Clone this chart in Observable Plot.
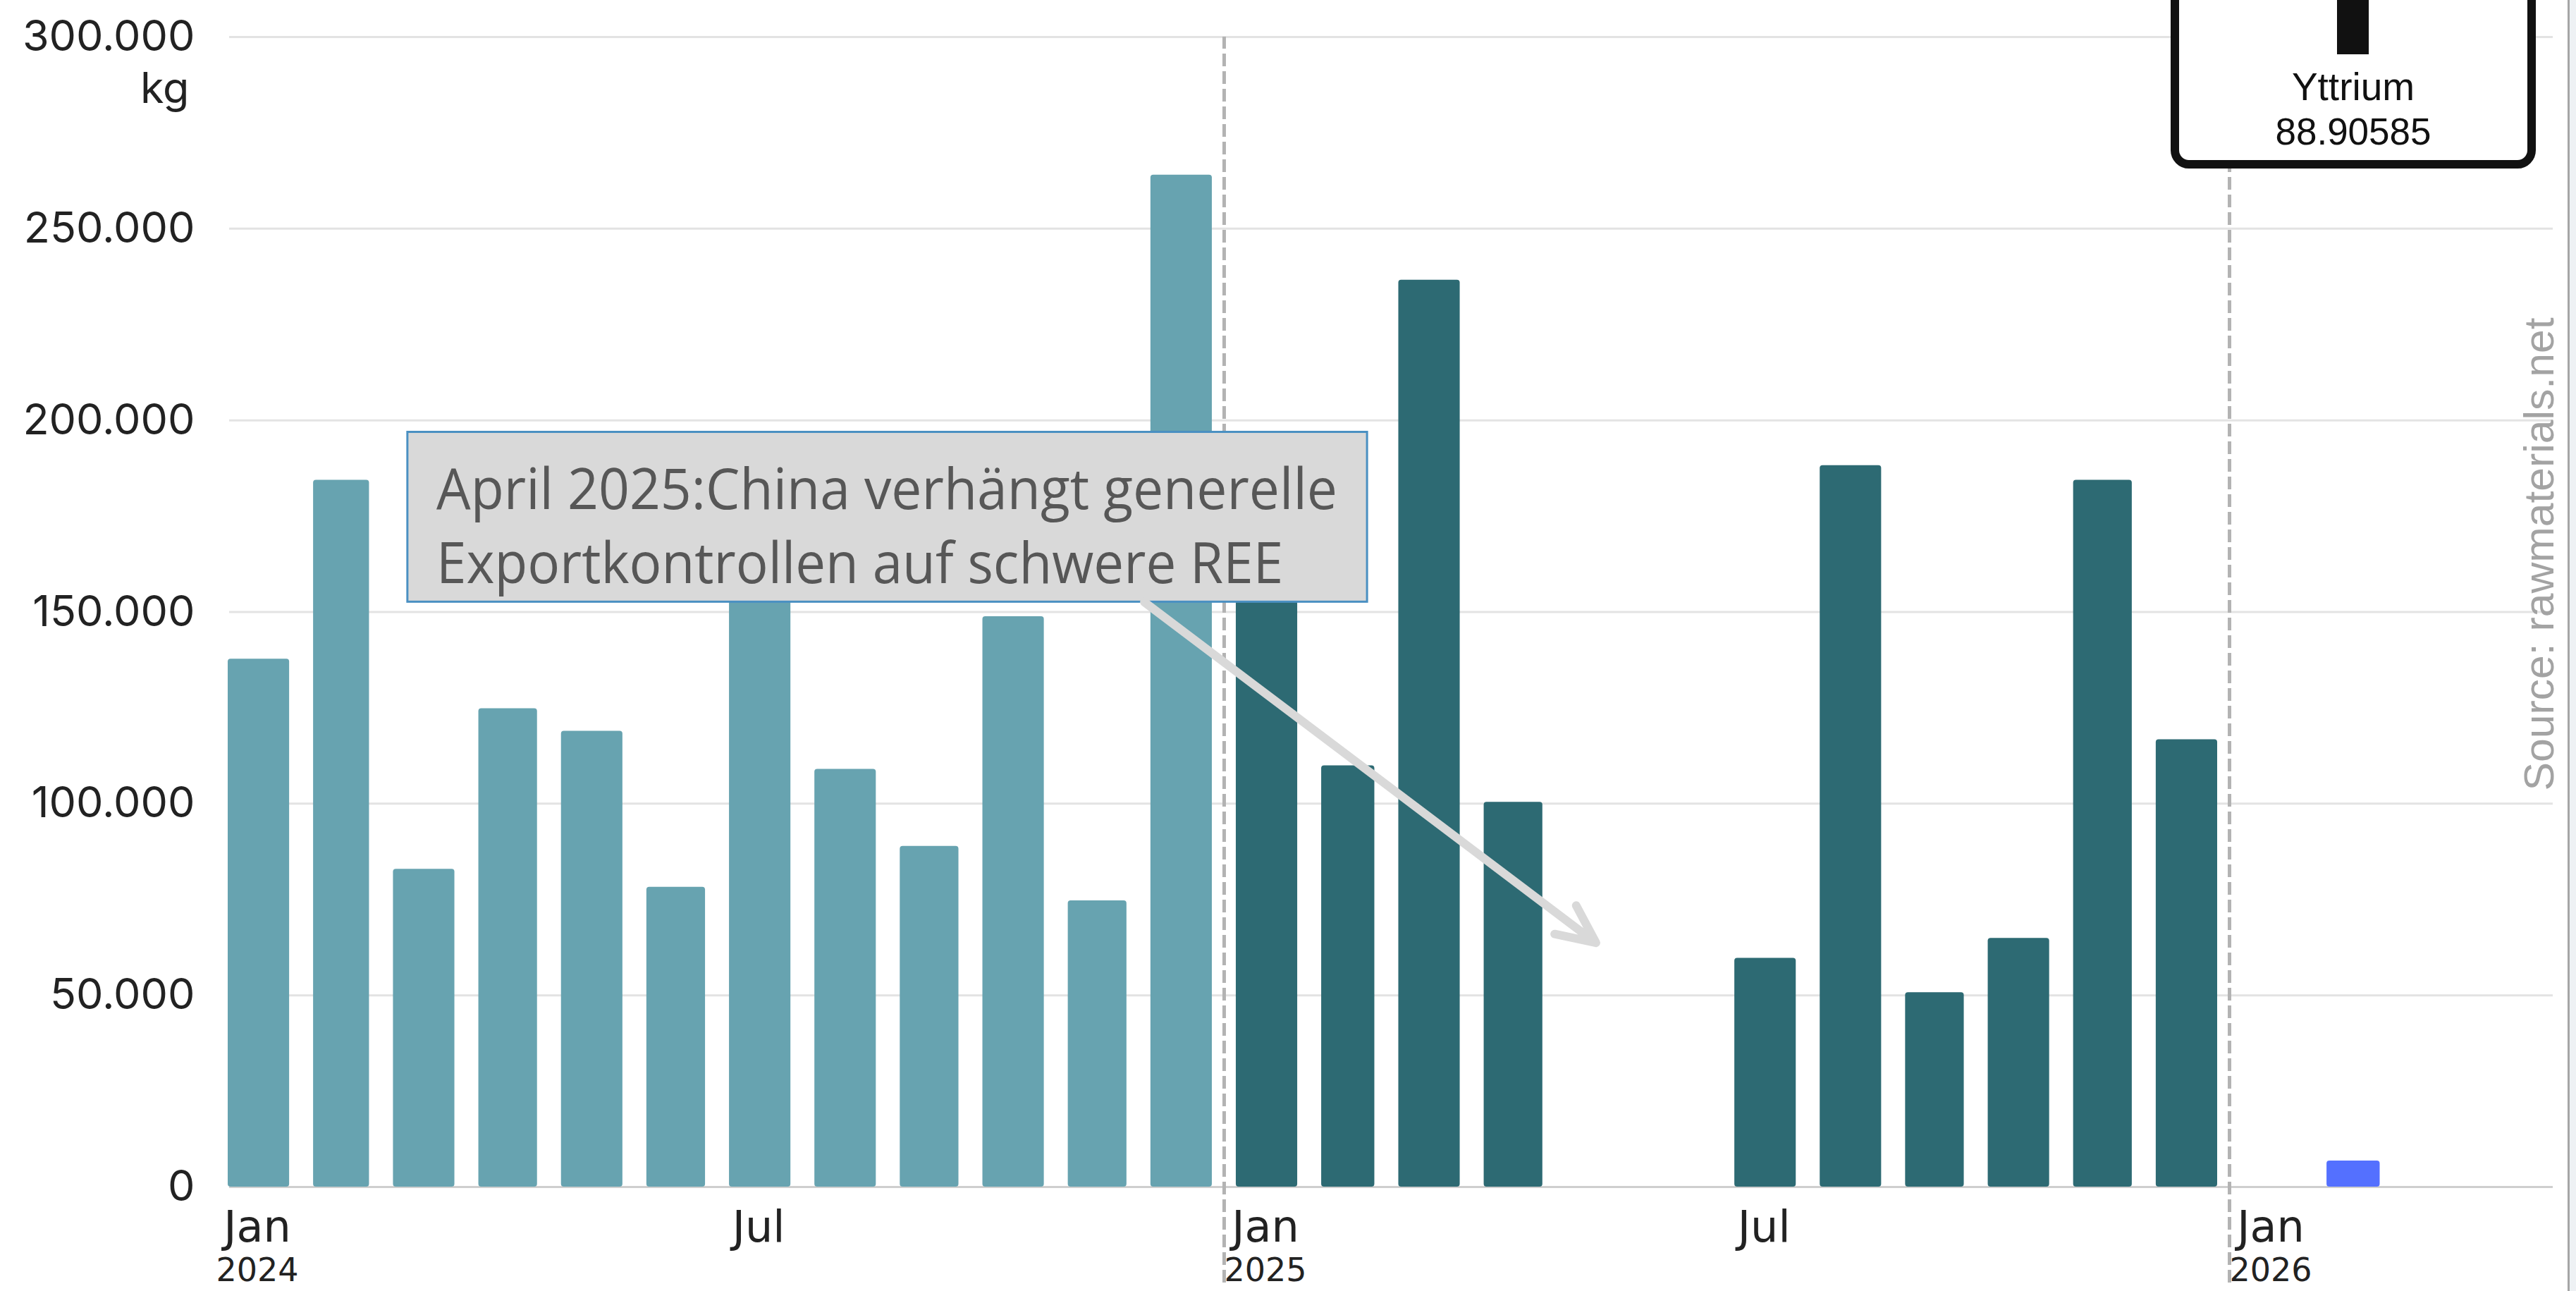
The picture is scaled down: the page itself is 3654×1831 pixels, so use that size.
<!DOCTYPE html>
<html><head><meta charset="utf-8">
<script src="https://cdn.jsdelivr.net/npm/d3@7"></script>
<script src="https://cdn.jsdelivr.net/npm/@observablehq/plot@0.6"></script>
<style>
html,body{margin:0;padding:0;background:#fff;overflow:hidden;}
#wrap{position:relative;width:3654px;height:1831px;}
#wrap svg{display:block}
.overlay{position:absolute;left:0;top:0;pointer-events:none}
</style></head><body><div id="wrap"></div>
<script>
// ---- data ----
const months = ["2024-01","2024-02","2024-03","2024-04","2024-05","2024-06","2024-07","2024-08","2024-09","2024-10","2024-11","2024-12",
                "2025-01","2025-02","2025-03","2025-04","2025-05","2025-06","2025-07","2025-08","2025-09","2025-10","2025-11","2025-12",
                "2026-01","2026-02"];
const values = [137700,184400,82900,124800,118900,78200,175000,109000,88900,148800,74700,264000,
                170000,109900,236600,100400,null,null,59700,188200,50700,64900,184400,116700,
                null,6800];
const years = ["2024","2025","2026"];
const palette = ["#67a3b0","#2d6a73","#5470ff"];
const yTicks = [0,50000,100000,150000,200000,250000,300000];
const tickDates = ["2024-01-16","2024-07-16","2025-01-16","2025-07-16","2026-01-16"];
const tickMonths = ["Jan","Jul","Jan","Jul","Jan"];
const tickYears = ["2024","","2025","","2026"];
const yearStarts = ["2025-01-01","2026-01-01"];
const annotationLines = ["April 2025:China verhängt generelle","Exportkontrollen auf schwere REE"];
const annotationLineValues = [181700,162350];
const annotationTextStart = "2024-03-21";
const annotationBox = {x1:"2024-03-10T14:00", x2:"2025-02-22", y1:152600, y2:196900};
const arrowFrom = {date:"2024-12-03", value:152600};
const arrowTo = {date:"2025-05-16", value:63700};
const unitLabel = "kg";
const sourceText = "Source: rawmaterials.net";

// ---- tables ----
const D = s => new Date(s.length === 7 ? s + "-01T00:00Z" : (s.includes("T") ? s + "Z" : s + "T00:00Z"));
const bars = months.map((m, i) => {
  const start = D(m);
  return {x1: start, x2: d3.utcMonth.offset(start, 1), value: values[i], year: m.slice(0,4)};
}).filter(d => d.value != null);
const ticks = tickDates.map((d, i) => ({x: D(d), month: tickMonths[i], year: tickYears[i]}));
const fmt = v => d3.format(",")(v).replace(/,/g, ".");

const chart = Plot.plot({
  width: 3654, height: 1831,
  marginLeft: 325, marginRight: 33, marginTop: 52, marginBottom: 148,
  style: {background: "#fff", fontFamily: "Inter"},
  x: {type: "utc", domain: [D("2024-01-01"), D("2026-01-01")], range: [306, 3162], axis: null},
  y: {domain: [0, 300000], axis: null},
  color: {domain: years, range: palette},
  marks: [
    Plot.ruleY(yTicks.filter(v => v > 0), {stroke: "#e3e3e3", strokeWidth: 3}),
    Plot.ruleY([0], {stroke: "#cfcfcf", strokeWidth: 3}),
    Plot.ruleX(yearStarts.map(D), {x: d => d, y1: -25000, y2: 300000, stroke: "#b3b3b3", strokeWidth: 5, strokeDasharray: "18,7"}),
    Plot.rectY(bars, {x1: "x1", x2: "x2", y: "value", fill: "year", insetLeft: 17, insetRight: 17, rx: 4}),
    Plot.rect([annotationBox], {x1: d => D(d.x1), x2: d => D(d.x2), y1: "y1", y2: "y2", fill: "#d9d9d9", stroke: "#4a90c2", strokeWidth: 3}),
    Plot.text(annotationLines, {x: () => D(annotationTextStart), y: (d, i) => annotationLineValues[i], text: d => d, textAnchor: "start", lineAnchor: "middle", fontSize: 81, fill: "#575757", fontFamily: "Open Sans"}),
    Plot.arrow([0], {x1: () => D(arrowFrom.date), y1: () => arrowFrom.value, x2: () => D(arrowTo.date), y2: () => arrowTo.value, stroke: "#d9d9d9", strokeWidth: 12, headLength: 7.5, headAngle: 50, strokeLinecap: "round"}),
    Plot.text(yTicks, {y: d => d, text: fmt, frameAnchor: "left", dx: -49, textAnchor: "end", lineAnchor: "middle", fontSize: 61, fill: "#222", fontFamily: "Inter"}),
    Plot.text([unitLabel], {frameAnchor: "top-left", dx: -57, dy: 74, textAnchor: "end", lineAnchor: "middle", fontSize: 61, fill: "#222", fontFamily: "Inter"}),
    Plot.text(ticks, {x: "x", text: "month", frameAnchor: "bottom", dy: 58, lineAnchor: "middle", fontSize: 62, fill: "#222", fontFamily: "DejaVu Sans"}),
    Plot.text(ticks, {x: "x", text: "year", frameAnchor: "bottom", dy: 119, lineAnchor: "middle", fontSize: 46, fill: "#222", fontFamily: "DejaVu Sans"})
  ]
});

const annotWidths = [1278, 1201];
chart.querySelectorAll("text").forEach(t => {
  const i = annotationLines.indexOf(t.textContent);
  if (i >= 0) { t.setAttribute("textLength", annotWidths[i]); t.setAttribute("lengthAdjust", "spacingAndGlyphs"); }
});

const wrap = document.getElementById("wrap");
wrap.appendChild(chart);

// decorative overlay: element tile, source caption, right border
const ov = d3.create("svg").attr("class", "overlay").attr("width", 3654).attr("height", 1831);
ov.append("rect").attr("x", 3085).attr("y", -40).attr("width", 506).attr("height", 273).attr("rx", 20)
  .attr("fill", "#fff").attr("stroke", "#111").attr("stroke-width", 12);
ov.append("rect").attr("x", 3315).attr("y", -10).attr("width", 45).attr("height", 87).attr("fill", "#111");
ov.append("text").attr("x", 3338).attr("y", 142).attr("text-anchor", "middle").attr("font-family", "Liberation Sans, Arial")
  .attr("font-size", 55).attr("fill", "#111").text("Yttrium");
ov.append("text").attr("x", 3338).attr("y", 205).attr("text-anchor", "middle").attr("font-family", "Liberation Sans, Arial")
  .attr("font-size", 53).attr("fill", "#111").text("88.90585");
ov.append("text").attr("transform", "translate(3622,786) rotate(-90)").attr("text-anchor", "middle")
  .attr("font-family", "Liberation Sans, Arial").attr("font-size", 59).attr("fill", "#a3a3a3")
  .attr("textLength", 671).attr("lengthAdjust", "spacingAndGlyphs").text(sourceText);
ov.append("rect").attr("x", 3642).attr("y", 0).attr("width", 3).attr("height", 1831).attr("fill", "#a6a6a6");
ov.append("rect").attr("x", 3645).attr("y", 0).attr("width", 9).attr("height", 1831).attr("fill", "#eef1f4");
wrap.appendChild(ov.node());
</script></body></html>
